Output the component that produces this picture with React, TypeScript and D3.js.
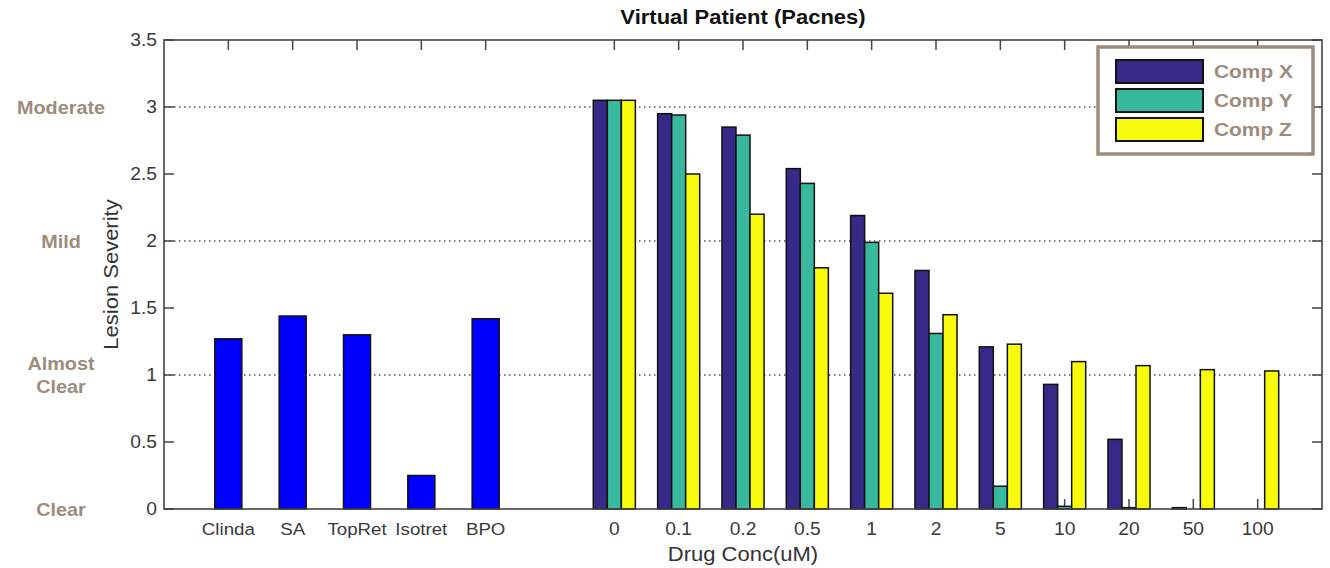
import { useEffect, useRef } from 'react';
import * as d3 from 'd3';

// Reference treatments (left block) and drug concentration groups (right block)
const refCategories = ['Clinda', 'SA', 'TopRet', 'Isotret', 'BPO'];
const refValues = [1.27, 1.44, 1.30, 0.25, 1.42];

const concLabels = ['0', '0.1', '0.2', '0.5', '1', '2', '5', '10', '20', '50', '100'];
const compX = [3.05, 2.95, 2.85, 2.54, 2.19, 1.78, 1.21, 0.93, 0.52, 0.01, 0];
const compY = [3.05, 2.94, 2.79, 2.43, 1.99, 1.31, 0.17, 0.02, 0.01, 0, 0];
const compZ = [3.05, 2.50, 2.20, 1.80, 1.61, 1.45, 1.23, 1.10, 1.07, 1.04, 1.03];

const seriesNames = ['Comp X', 'Comp Y', 'Comp Z'];
const seriesColors = ['#352a87', '#38b99e', '#f9fb0e'];

const yTicks = [0, 0.5, 1, 1.5, 2, 2.5, 3, 3.5];
const gridValues = [1, 2, 3];
const severityLabels = [
  { value: 3, lines: ['Moderate'] },
  { value: 2, lines: ['Mild'] },
  { value: 1, lines: ['Almost', 'Clear'] },
  { value: 0, lines: ['Clear'] },
];

const FONT = '"Liberation Sans", Arial, Helvetica, sans-serif';
const TAUPE = '#9d8c7b';
const SX = 1.1; // text in the source is a little wider than tall

export default function App() {
  const svgRef = useRef<SVGSVGElement>(null);
  const width = 1330;
  const height = 568;

  useEffect(() => {
    if (!svgRef.current) return;
    const svg = d3.select(svgRef.current);
    svg.selectAll('*').remove();

    const left = 164, right = 1322, top = 40, bottom = 509;

    const x = d3.scaleLinear().domain([0, 18]).range([left, right]);
    const y = d3.scaleLinear().domain([0, 3.5]).range([bottom, top]);

    const refPos = refCategories.map((_, i) => i + 1);
    const concPos = concLabels.map((_, i) => i + 7);
    const tickPos = [...refPos, ...concPos];

    const text = (
      g: d3.Selection<any, unknown, null, undefined>,
      tx: number, ty: number, str: string,
      size: number, anchor = 'middle', fill = '#333', weight = 'normal', rotate = 0
    ) => g.append('text')
      .attr('transform', `translate(${tx},${ty})${rotate ? ` rotate(${rotate})` : ''} scale(${SX},1)`)
      .attr('text-anchor', anchor)
      .attr('font-family', FONT)
      .attr('font-size', size)
      .attr('font-weight', weight)
      .attr('fill', fill)
      .text(str);

    svg.append('rect').attr('width', width).attr('height', height).attr('fill', '#fff');

    const g = svg.append('g');

    // dotted grid lines at 1, 2, 3
    g.selectAll('line.grid')
      .data(gridValues)
      .join('line')
      .attr('x1', left).attr('x2', right)
      .attr('y1', d => y(d)).attr('y2', d => y(d))
      .attr('stroke', '#555')
      .attr('stroke-width', 1.3)
      .attr('stroke-dasharray', '1.5,3.5');

    // bottom ticks (drawn under the bars)
    g.selectAll('line.btick')
      .data(concPos)
      .join('line')
      .attr('x1', d => x(d)).attr('x2', d => x(d))
      .attr('y1', bottom).attr('y2', bottom - 10)
      .attr('stroke', '#444').attr('stroke-width', 1.5);

    // reference bars
    const refW = x(0.42) - x(0);
    g.selectAll('rect.ref')
      .data(refValues)
      .join('rect')
      .attr('x', (_, i) => x(refPos[i]) - refW / 2)
      .attr('y', d => y(d))
      .attr('width', refW)
      .attr('height', d => y(0) - y(d))
      .attr('fill', '#0000ff')
      .attr('stroke', '#111')
      .attr('stroke-width', 1.5);

    // grouped bars
    const barW = x(0.218) - x(0);
    const series = [compX, compY, compZ];
    series.forEach((vals, s) => {
      g.selectAll(`rect.s${s}`)
        .data(vals)
        .join('rect')
        .attr('x', (_, i) => x(concPos[i]) + (s - 1) * barW - barW / 2)
        .attr('y', d => y(d))
        .attr('width', barW)
        .attr('height', d => y(0) - y(d))
        .attr('fill', seriesColors[s])
        .attr('stroke', '#111')
        .attr('stroke-width', 1.5)
        .attr('opacity', (d, i) => (d === 0 && !(s === 0 && i === 9)) ? 0 : 1);
    });

    // axes box
    g.append('rect')
      .attr('x', left).attr('y', top)
      .attr('width', right - left).attr('height', bottom - top)
      .attr('fill', 'none').attr('stroke', '#444').attr('stroke-width', 1.6);

    // top ticks
    g.selectAll('line.ttick')
      .data(tickPos)
      .join('line')
      .attr('x1', d => x(d)).attr('x2', d => x(d))
      .attr('y1', top).attr('y2', top + 10)
      .attr('stroke', '#444').attr('stroke-width', 1.5);

    // left / right ticks
    g.selectAll('line.ltick')
      .data(yTicks)
      .join('line')
      .attr('x1', left).attr('x2', left + 10)
      .attr('y1', d => y(d)).attr('y2', d => y(d))
      .attr('stroke', '#444').attr('stroke-width', 1.5);
    g.selectAll('line.rtick')
      .data(yTicks)
      .join('line')
      .attr('x1', right).attr('x2', right - 10)
      .attr('y1', d => y(d)).attr('y2', d => y(d))
      .attr('stroke', '#444').attr('stroke-width', 1.5);

    // y tick labels
    yTicks.forEach(v => {
      text(g, 157, y(v) + 6, d3.format('~g')(v), 17.5, 'end', '#3a3a3a');
    });

    // x tick labels
    refCategories.forEach((c, i) => text(g, x(refPos[i]), 535, c, 17, 'middle', '#3a3a3a'));
    concLabels.forEach((c, i) => text(g, x(concPos[i]), 535, c, 17.5, 'middle', '#3a3a3a'));

    // axis labels + title
    text(g, (left + right) / 2, 561, 'Drug Conc(uM)', 20, 'middle', '#333');
    text(g, 118, (top + bottom) / 2, 'Lesion Severity', 20, 'middle', '#333', 'normal', -90);
    text(g, (left + right) / 2, 24, 'Virtual Patient (Pacnes)', 20, 'middle', '#111', 'bold');

    // severity labels on the far left
    severityLabels.forEach(s => {
      const lh = 23;
      const y0 = y(s.value) + 6.5 - ((s.lines.length - 1) * lh) / 2;
      s.lines.forEach((ln, k) => text(g, 61, y0 + k * lh, ln, 18, 'middle', TAUPE, 'bold'));
    });

    // legend
    const lg = g.append('g');
    lg.append('rect')
      .attr('x', 1098).attr('y', 47)
      .attr('width', 215).attr('height', 107)
      .attr('fill', '#fff').attr('stroke', TAUPE).attr('stroke-width', 3.5);
    seriesNames.forEach((name, i) => {
      const ry = 60 + i * 29;
      lg.append('rect')
        .attr('x', 1116).attr('y', ry)
        .attr('width', 87).attr('height', 23)
        .attr('fill', seriesColors[i]).attr('stroke', '#111').attr('stroke-width', 2);
      text(lg, 1214, ry + 18, name, 19, 'start', TAUPE, 'bold');
    });
  }, []);

  return (
    <svg
      ref={svgRef}
      width={width}
      height={height}
      style={{ position: 'absolute', left: 0, top: 0, display: 'block' }}
    />
  );
}
